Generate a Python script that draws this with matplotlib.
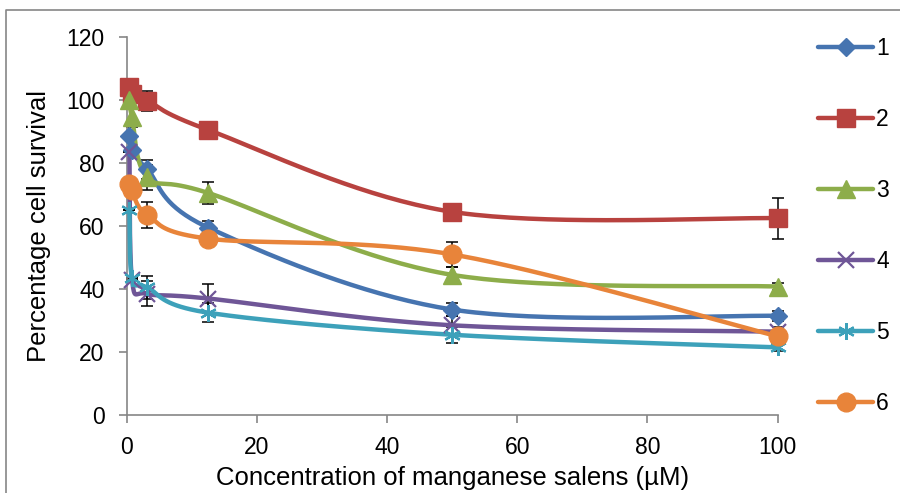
import numpy as np
import matplotlib.pyplot as plt
from matplotlib.lines import Line2D

plt.rcParams['font.family'] = ['Liberation Sans', 'DejaVu Sans']

# concentration of manganese salens (uM)
conc = [0.39, 0.78, 3.125, 12.5, 50, 100]

surv1 = [88.5, 84.0, 78.0, 59.5, 33.5, 31.5]
surv2 = [104.0, 102.0, 99.8, 90.5, 64.5, 62.5]
surv3 = [100.0, 94.5, 75.5, 70.5, 44.5, 40.8]
surv4 = [83.5, 43.0, 38.5, 37.0, 28.5, 26.5]
surv5 = [65.0, 43.5, 40.5, 32.5, 25.5, 21.5]
surv6 = [73.5, 71.5, 63.5, 56.0, 51.0, 25.0]

err1 = [0, 0, 3.0, 2.0, 2.0, 1.5]
err2 = [0, 0, 3.2, 1.5, 1.5, 6.5]
err3 = [0, 3.0, 4.0, 3.5, 2.5, 1.0]
err4 = [0, 0, 4.0, 4.5, 3.0, 1.5]
err5 = [0, 0, 3.5, 3.0, 2.5, 1.0]
err6 = [0, 0, 4.0, 1.5, 4.0, 1.0]

series = [
    ('1', surv1, err1, '#4674B0', dict(marker='D', ms=9.5)),
    ('2', surv2, err2, '#B8423F', dict(marker='s', ms=13)),
    ('3', surv3, err3, '#8DAD4A', dict(marker='^', ms=13.5)),
    ('4', surv4, err4, '#6F5697', dict(marker='x', ms=11, mew=1.6)),
    ('5', surv5, err5, '#3DA1BA', dict(marker=(6, 2, 0), ms=12, mew=1.6)),
    ('6', surv6, err6, '#E8843A', dict(marker='o', ms=13.5)),
]


def smooth(ax, xs, ys, n=40):
    # bezier smoothing in screen space, like a spreadsheet "smoothed line"
    pts = ax.transData.transform(np.column_stack([xs, ys]))
    p = np.vstack([pts[0], pts, pts[-1]])
    out = []
    t = np.linspace(0, 1, n)[:, None]
    for i in range(1, len(p) - 2):
        p0, p1, p2, p3 = p[i - 1], p[i], p[i + 1], p[i + 2]
        b1 = p1 + (p2 - p0) / 6
        b2 = p2 - (p3 - p1) / 6
        seg = ((1 - t) ** 3) * p1 + 3 * ((1 - t) ** 2) * t * b1 \
            + 3 * (1 - t) * t ** 2 * b2 + t ** 3 * p2
        out.append(seg)
    out = np.vstack(out)
    return ax.transData.inverted().transform(out)


fig = plt.figure(figsize=(9, 4.93), dpi=100)
ax = fig.add_axes([0.141, 0.158, 0.723, 0.767])
ax.set_xlim(0, 100)
ax.set_ylim(0, 120)

gray = '#868686'
for s in ('top', 'right'):
    ax.spines[s].set_visible(False)
for s in ('left', 'bottom'):
    ax.spines[s].set_color(gray)
    ax.spines[s].set_linewidth(1.2)
ax.tick_params(colors=gray, labelcolor='black', labelsize=16.5, length=6, width=1.2)
ax.tick_params(axis='x', pad=9)
ax.tick_params(axis='y', pad=10)
ax.set_xticks(range(0, 101, 20))
ax.set_yticks(range(0, 121, 20))
ax.set_xlabel('Concentration of manganese salens (\u00b5M)', fontsize=18.5, labelpad=5)
ax.set_ylabel('Percentage cell survival', fontsize=18.5, labelpad=11)

fig.canvas.draw()
handles = []
for name, ys, err, color, mk in series:
    curve = smooth(ax, conc, ys)
    ax.plot(curve[:, 0], curve[:, 1], color=color, lw=3.2, solid_capstyle='round',
            clip_on=False, zorder=3)
    ax.errorbar(conc, ys, yerr=err, fmt='none', ecolor='black', elinewidth=1.1,
                capsize=4.5, capthick=1.1, zorder=2, clip_on=False)
    ax.plot(conc, ys, ls='none', color=color, mec=color, clip_on=False, zorder=4, **mk)
    handles.append(Line2D([], [], color=color, lw=3.2, mec=color,
                          solid_capstyle='round', **mk))

fig.legend(handles, [s[0] for s in series], loc='upper left',
           bbox_to_anchor=(0.899, 0.944), frameon=False, fontsize=16.5,
           handlelength=2.4, handletextpad=0.12, labelspacing=2.1,
           borderaxespad=0)

# outer chart border
fig.add_artist(Line2D([6 / 900, 6 / 900, 1.0], [0, 1 - 10 / 493, 1 - 10 / 493],
                      transform=fig.transFigure, color=gray, lw=1.2))

fig.savefig('out.png', dpi=100)
